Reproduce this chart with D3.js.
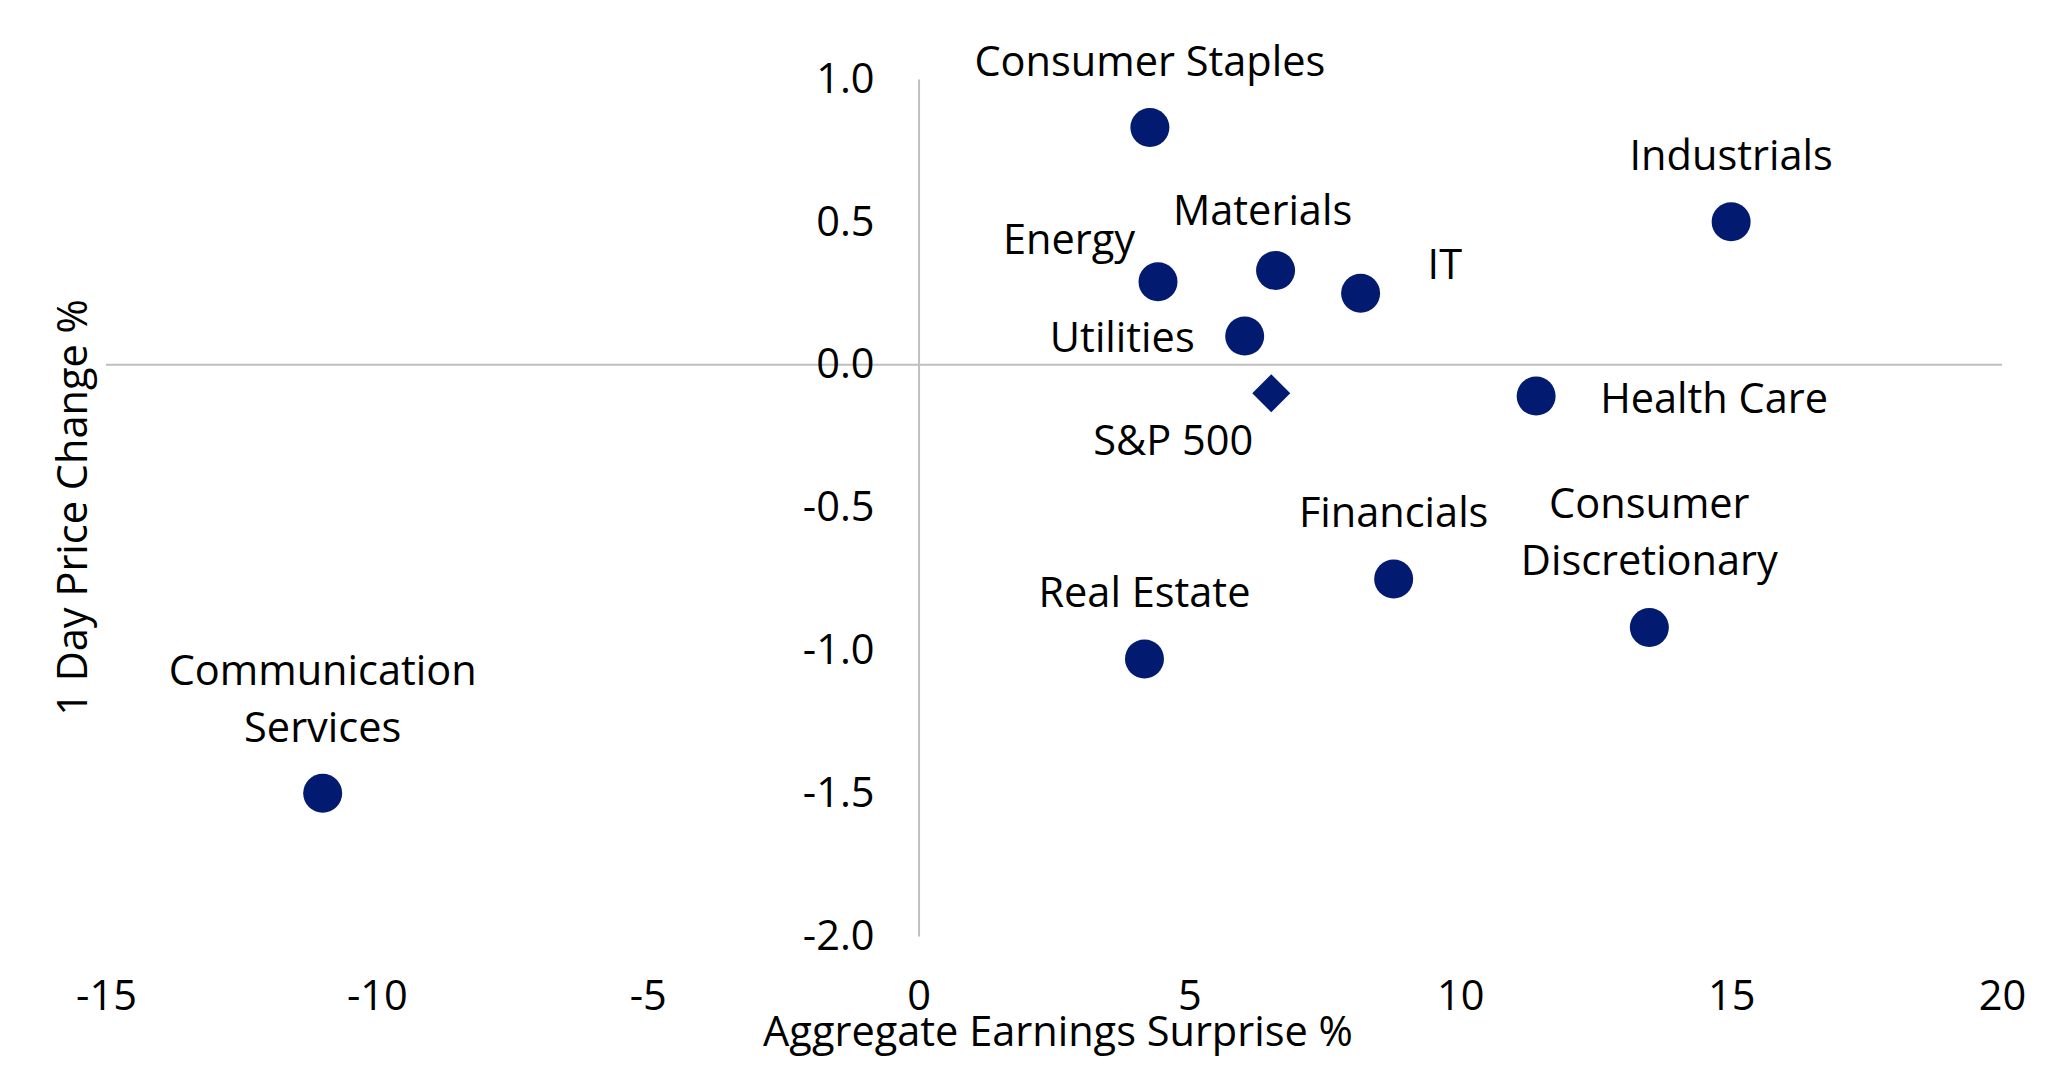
<!DOCTYPE html>
<html lang="en">
<head>
  <meta charset="utf-8">
  <title>Earnings surprise vs 1 day price change</title>
  <script src="https://d3js.org/d3.v7.min.js"></script>
  <style>
    body { margin: 0; background: #fff; }
    svg { display: block; font-family: "Open Sans", sans-serif; }
    .tick text, .label, .axis-title { font-size: 41.5px; fill: #000; }
  </style>
</head>
<body>
<svg id="chart"></svg>

<script>
// sectors and their values (x = earnings surprise %, y = 1 day price change %)
var sectors = ["Consumer Staples", "Industrials", "Energy", "Materials", "IT",
  "Utilities", "Health Care", "Financials", "Consumer Discretionary",
  "Real Estate", "Communication Services"];
var surprise = [4.27, 15.0, 4.42, 6.59, 8.16, 6.02, 11.4, 8.77, 13.49, 4.17, -11.0];
var priceChange = [0.83, 0.50, 0.29, 0.33, 0.25, 0.10, -0.11, -0.75, -0.92, -1.03, -1.50];

// index, drawn as a diamond
var indexName = ["S&P 500"];
var indexSurprise = [6.51];
var indexPriceChange = [-0.10];

var xTicks = [-15, -10, -5, 0, 5, 10, 15, 20];
var yTicks = [-2.0, -1.5, -1.0, -0.5, 0.0, 0.5, 1.0];

// label placement (pixels relative to the marker), like moved Excel data labels
var placement = {
  "Consumer Staples":       { anchor: "middle", dx: 0,   dy: [-52] },
  "Industrials":            { anchor: "middle", dx: 0,   dy: [-52] },
  "Energy":                 { anchor: "end",    dx: -23, dy: [-28] },
  "Materials":              { anchor: "middle", dx: -13, dy: [-45] },
  "IT":                     { anchor: "start",  dx: 67,  dy: [-14] },
  "Utilities":              { anchor: "end",    dx: -50, dy: [16] },
  "Health Care":            { anchor: "start",  dx: 64,  dy: [17] },
  "Financials":             { anchor: "middle", dx: 0,   dy: [-52] },
  "Consumer Discretionary": { anchor: "middle", dx: 0,   dy: [-109, -52] },
  "Real Estate":            { anchor: "middle", dx: 0,   dy: [-52] },
  "Communication Services": { anchor: "middle", dx: 0,   dy: [-108, -51] },
  "S&P 500":                { anchor: "middle", dx: -98, dy: [62] }
};

var config = {
  w: 2068,
  h: 1065,
  left: 106,
  right: 2002,
  top: 79,
  bottom: 936,
  r: 19.5,
  color: "#021b70",
  grid: "#bfbfbf"
};

var svg = d3.select("#chart")
  .attr("width", config.w)
  .attr("height", config.h);

var x = d3.scaleLinear().domain([-15, 20]).range([config.left, config.right]);
var y = d3.scaleLinear().domain([-2, 1]).range([config.bottom, config.top]);

// build rows from the arrays
var points = sectors.map(function(name, i) {
  return { name: name, x: surprise[i], y: priceChange[i] };
});
var index = indexName.map(function(name, i) {
  return { name: name, x: indexSurprise[i], y: indexPriceChange[i] };
});

// horizontal zero line
svg.append("line")
  .attr("x1", x(-15))
  .attr("x2", x(20))
  .attr("y1", y(0))
  .attr("y2", y(0))
  .attr("stroke", config.grid)
  .attr("stroke-width", 2);

// vertical axis at x = 0 with its labels
var yAxis = svg.append("g")
  .attr("transform", "translate(" + x(0) + ",0)")
  .call(d3.axisLeft(y)
    .tickValues(yTicks)
    .tickSize(0)
    .tickPadding(44)
    .tickFormat(function(d) { return d.toFixed(1); }));
yAxis.select(".domain").attr("stroke", config.grid).attr("stroke-width", 2);
yAxis.attr("font-family", null).attr("font-size", null);

// x labels sit at the bottom of the plot
var xAxis = svg.append("g")
  .attr("transform", "translate(0," + config.bottom + ")")
  .call(d3.axisBottom(x)
    .tickValues(xTicks)
    .tickSize(0)
    .tickPadding(45)
    .tickFormat(function(d) { return String(d); }));
xAxis.select(".domain").remove();
xAxis.attr("font-family", null).attr("font-size", null);

// axis titles
svg.append("text")
  .attr("class", "axis-title")
  .attr("x", 1058)
  .attr("y", 1046)
  .attr("text-anchor", "middle")
  .text("Aggregate Earnings Surprise %");

svg.append("text")
  .attr("class", "axis-title")
  .attr("transform", "translate(87," + ((config.top + config.bottom) / 2) + ") rotate(-90)")
  .attr("text-anchor", "middle")
  .text("1 Day Price Change %");

// sector markers
svg.append("g").selectAll("circle")
  .data(points)
  .enter()
  .append("circle")
    .attr("cx", function(d) { return x(d.x); })
    .attr("cy", function(d) { return y(d.y); })
    .attr("r", config.r)
    .attr("fill", config.color);

// index marker (diamond)
var diamond = d3.symbol().type(d3.symbolSquare).size(Math.pow(19 * Math.SQRT2, 2));
svg.append("g").selectAll("path")
  .data(index)
  .enter()
  .append("path")
    .attr("d", diamond)
    .attr("transform", function(d) {
      return "translate(" + x(d.x) + "," + y(d.y) + ") rotate(45)";
    })
    .attr("fill", config.color);

// data labels
function splitName(name) {
  if (name === "Consumer Discretionary") return ["Consumer", "Discretionary"];
  if (name === "Communication Services") return ["Communication", "Services"];
  return [name];
}

var labels = svg.append("g").selectAll("text")
  .data(points.concat(index))
  .enter()
  .append("text")
    .attr("class", "label")
    .attr("text-anchor", function(d) { return placement[d.name].anchor; });

labels.each(function(d) {
  var p = placement[d.name];
  var t = d3.select(this);
  splitName(d.name).forEach(function(line, i) {
    t.append("tspan")
      .attr("x", x(d.x) + p.dx)
      .attr("y", y(d.y) + p.dy[i])
      .text(line);
  });
});
</script>
</body>
</html>
